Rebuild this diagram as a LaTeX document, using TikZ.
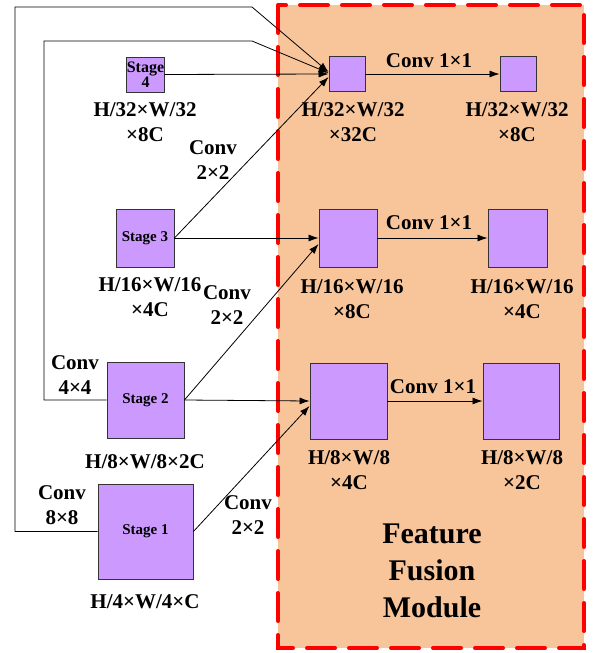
\documentclass[tikz,border=0pt]{standalone}
\usepackage{fontspec}
\setmainfont{Liberation Serif}[BoldFont=Liberation Serif Bold]
\usetikzlibrary{arrows.meta}
\definecolor{boxpurple}{RGB}{204,153,255}
\definecolor{modfill}{RGB}{248,197,155}
\definecolor{modred}{RGB}{255,0,0}
\begin{document}
\begin{tikzpicture}[x=1pt,y=-1pt,
  blk/.style={draw=black!80, fill=boxpurple, line width=0.9pt, inner sep=0pt},
  stagetxt/.style={font=\fontsize{15}{16}\selectfont\bfseries, align=center},
  lbl/.style={font=\fontsize{21}{25}\selectfont\bfseries, align=center, inner sep=0pt},
  conn/.style={draw=black, line width=0.8pt},
  arr/.style={conn, -{Latex[length=10pt,width=7pt]}}]
\useasboundingbox (0,0) rectangle (597,653);

% feature fusion module background
\fill[modfill] (278,5) rectangle (584,648);
\draw[modred, line width=4pt, dash pattern=on 28pt off 14pt, line cap=round]
  (278,5) rectangle (584,648);

% backbone stages
\node[blk, minimum width=35pt, minimum height=35pt, font=\fontsize{16}{16}\selectfont\bfseries, align=center] (s4) at (145.5,74.5) {Stage\\[-1pt]4};
\node[blk, minimum width=58pt, minimum height=58pt, stagetxt] (s3) at (145,238) {Stage 3};
\node[blk, minimum width=77pt, minimum height=76pt, stagetxt] (s2) at (145.5,400) {Stage 2};
\node[blk, minimum width=95pt, minimum height=95pt, stagetxt] (s1) at (145.5,531.5) {Stage 1};

% fusion and output feature maps
\node[blk, minimum width=36pt, minimum height=35pt] (f4) at (347,74) {};
\node[blk, minimum width=36pt, minimum height=35pt] (o4) at (518,74) {};
\node[blk, minimum width=58pt, minimum height=58pt] (f3) at (348,238) {};
\node[blk, minimum width=59pt, minimum height=58pt] (o3) at (517.5,238) {};
\node[blk, minimum width=77pt, minimum height=76pt] (f2) at (348.5,401) {};
\node[blk, minimum width=76pt, minimum height=76pt] (o2) at (521,401) {};

% skip-connection bends
\coordinate (ol) at (15,7);
\coordinate (ot) at (252,7);
\coordinate (il) at (44,41);
\coordinate (it) at (252,41);

% connectors into the smallest fusion map
\draw[arr] (s1.west) -| (ol) -- (ot) -- ([yshift=2pt]f4.west);
\draw[arr] (s2.west) -| (il) -- (it) -- ([yshift=1pt]f4.west);
\draw[arr] (s4.east) -- (f4.west);
\draw[arr] (s3.east) -- ([yshift=-3pt]f4.west);

% connectors into the middle and largest fusion maps
\draw[arr] (s3.east) -- (f3.west);
\draw[arr] (s2.east) -- ([yshift=-6pt]f3.west);
\draw[arr] (s2.east) -- (f2.west);
\draw[arr] (s1.east) -- ([yshift=-5pt]f2.west);

% 1x1 convolutions
\draw[arr] (f4.east) -- (o4.west);
\draw[arr] (f3.east) -- (o3.west);
\draw[arr] (f2.east) -- (o2.west);

% labels
\node[lbl] (l4) at (145,122) {H/32×W/32\\×8C};
\node[lbl] (l3) at (150,297) {H/16×W/16\\×4C};
\node[lbl] (l2) at (145,462) {H/8×W/8×2C};
\node[lbl] (l1) at (145,602) {H/4×W/4×C};

\node[lbl] (c43) at (213,160) {Conv\\2×2};
\node[lbl] (c32) at (227,305) {Conv\\2×2};
\node[lbl] (c21) at (248,515) {Conv\\2×2};
\node[lbl] (c44) at (75,375) {Conv\\4×4};
\node[lbl] (c88) at (62,505) {Conv\\8×8};

\node[lbl] (k4) at (429,61) {Conv 1×1};
\node[lbl] (k3) at (429,223) {Conv 1×1};
\node[lbl] (k2) at (433,387) {Conv 1×1};

\node[lbl] (lf4) at (353,122) {H/32×W/32\\×32C};
\node[lbl] (lo4) at (517,122) {H/32×W/32\\×8C};
\node[lbl] (lf3) at (352,299) {H/16×W/16\\×8C};
\node[lbl] (lo3) at (522,299) {H/16×W/16\\×4C};
\node[lbl] (lf2) at (349,470) {H/8×W/8\\×4C};
\node[lbl] (lo2) at (522,470) {H/8×W/8\\×2C};

\node[font=\fontsize{30}{37}\selectfont\bfseries, align=center] (ffm) at (432,571)
  {Feature\\Fusion\\Module};
\end{tikzpicture}
\end{document}
